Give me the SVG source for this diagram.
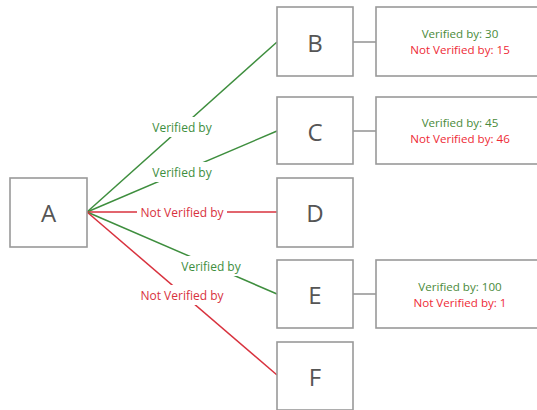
<svg xmlns="http://www.w3.org/2000/svg" width="537" height="410" viewBox="0 0 537 410">
  <style>
    .box { fill: #ffffff; stroke: #999999; stroke-width: 1.6; }
    .node-label { font-family: "Open Sans", "Liberation Sans", sans-serif; font-size: 24px; fill: #555555; text-anchor: middle; dominant-baseline: central; }
    .edge { fill: none; stroke-width: 1.5; }
    .ok { stroke: #3e8e3e; }
    .no { stroke: #d8323e; }
    .link { stroke: #999999; stroke-width: 1.6; fill: none; }
    .lbl { font-family: "Open Sans", "Liberation Sans", sans-serif; font-size: 12px; text-anchor: middle; dominant-baseline: central; }
    .lbl-ok { fill: #3e8e3e; }
    .lbl-no { fill: #d8323e; }
    .info { font-family: "Open Sans", "Liberation Sans", sans-serif; font-size: 11.6px; text-anchor: middle; }
    .info-ok { fill: #4a8a3a; }
    .info-no { fill: #ee2a36; }
    .mask { fill: #ffffff; }
  </style>
  <rect width="537" height="410" fill="#ffffff"/>

  <g id="connectors">
    <line class="edge ok" x1="87" y1="212" x2="277" y2="42"/>
    <line class="edge ok" x1="87" y1="212" x2="277" y2="131"/>
    <line class="edge no" x1="87" y1="212" x2="277" y2="212"/>
    <line class="edge ok" x1="87" y1="212" x2="277" y2="294"/>
    <line class="edge no" x1="87" y1="212" x2="277" y2="375"/>
    <line class="link" x1="353" y1="42" x2="376" y2="42"/>
    <line class="link" x1="353" y1="131" x2="376" y2="131"/>
    <line class="link" x1="353" y1="294" x2="376" y2="294"/>

    <rect class="mask" x="147" y="117" width="70" height="20"/>
    <text class="lbl lbl-ok" x="182" y="127">Verified by</text>
    <rect class="mask" x="147" y="162" width="70" height="20"/>
    <text class="lbl lbl-ok" x="182" y="172">Verified by</text>
    <rect class="mask" x="137" y="204" width="90" height="16"/>
    <text class="lbl lbl-no" x="182" y="212">Not Verified by</text>
    <rect class="mask" x="176" y="256" width="70" height="20"/>
    <text class="lbl lbl-ok" x="211" y="266">Verified by</text>
    <rect class="mask" x="136" y="285" width="92" height="20"/>
    <text class="lbl lbl-no" x="182" y="295">Not Verified by</text>
  </g>

  <g id="node-A">
    <rect class="box" x="10" y="178" width="77" height="69"/>
    <text class="node-label" x="48.5" y="212.5">A</text>
  </g>
  <g id="node-B">
    <rect class="box" x="277" y="7" width="76" height="69"/>
    <text class="node-label" x="315" y="42">B</text>
  </g>
  <g id="node-C">
    <rect class="box" x="277" y="97" width="76" height="67"/>
    <text class="node-label" x="315" y="131">C</text>
  </g>
  <g id="node-D">
    <rect class="box" x="277" y="178" width="76" height="69"/>
    <text class="node-label" x="315" y="212.5">D</text>
  </g>
  <g id="node-E">
    <rect class="box" x="277" y="260" width="76" height="68"/>
    <text class="node-label" x="315" y="294">E</text>
  </g>
  <g id="node-F">
    <rect class="box" x="277" y="342" width="76" height="68"/>
    <text class="node-label" x="315" y="376">F</text>
  </g>

  <g id="info-B">
    <rect class="box" x="376" y="7" width="168" height="69"/>
    <text class="info info-ok" x="460" y="38">Verified by: 30</text>
    <text class="info info-no" x="460" y="54">Not Verified by: 15</text>
  </g>
  <g id="info-C">
    <rect class="box" x="376" y="97" width="168" height="67"/>
    <text class="info info-ok" x="460" y="127">Verified by: 45</text>
    <text class="info info-no" x="460" y="143">Not Verified by: 46</text>
  </g>
  <g id="info-E">
    <rect class="box" x="376" y="260" width="168" height="68"/>
    <text class="info info-ok" x="460" y="290.5">Verified by: 100</text>
    <text class="info info-no" x="460" y="306.5">Not Verified by: 1</text>
  </g>
</svg>
